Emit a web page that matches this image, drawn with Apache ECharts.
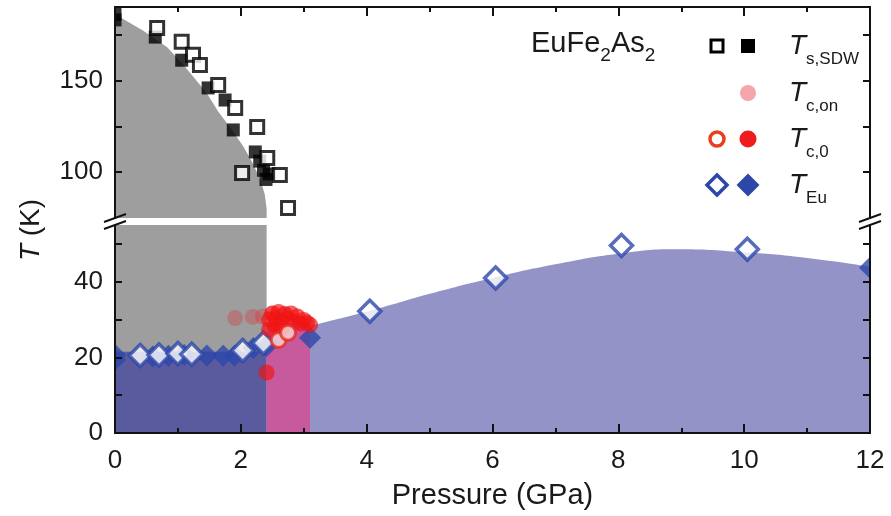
<!DOCTYPE html>
<html><head><meta charset="utf-8">
<script src="https://cdn.jsdelivr.net/npm/echarts@6/dist/echarts.min.js"></script>
<style>html,body{margin:0;padding:0;background:#fff}#c{width:891px;height:516px}</style>
</head><body><div id="c"></div>
<script>
// ---------- data ----------
const xLabels = [0, 2, 4, 6, 8, 10, 12];
const yLabelsUpper = [100, 150];
const yLabelsLower = [0, 20, 40];
const yTicksUpper = [100, 125, 150, 175];
const yTicksLower = [10, 20, 30, 40, 50];

// T_s,SDW (upper panel)
const tsOpen = [[0.67,178.5],[1.06,171],[1.24,164],[1.35,158.4],[1.64,147.5],[1.91,135],[2.26,124.6],[2.42,107.7],[2.02,99.5],[2.62,98.4],[2.75,80.5]];
const tsFilled = [[0,186],[0,183],[0.64,173.6],[1.06,161],[1.48,145.9],[1.75,139.3],[1.88,123],[2.23,111],[2.3,106],[2.36,101],[2.45,99],[2.4,96]];
// T_c,on
const tcOn = [[1.91,30.4],[2.19,30.7],[2.35,30.8],[2.5,31.5],[2.7,31.5]];
// T_c,0
const tc0Open = [[2.6,24.6],[2.75,26.5]];
const tc0Filled = [[2.45,30],[2.5,31.6],[2.55,30.4],[2.6,32],[2.65,29.6],[2.7,31.4],[2.75,30.2],[2.8,31.6],[2.85,29.4],[2.9,30.8],[2.95,28.9],[3.0,29.9],[3.05,29.2],[3.1,28.6],[2.55,28.4],[2.65,27.8],[2.45,27.4],[2.41,16]];
// T_Eu
const euOpen = [[0.4,20.5],[0.7,20.6],[1.0,21],[1.22,20.8],[2.03,21.8],[2.36,23.8],[4.05,32.2],[6.05,41],[8.05,49.6],[10.05,48.6]];
const euFilled = [[0,20.6],[0,19.4],[0.6,20.2],[0.85,20.4],[1.1,20.6],[1.46,20.5],[1.72,20.4],[1.9,20.4],[2.2,22.5],[2.41,23],[3.1,25.2],[12,43.7]];

// phase regions
const sdwUpper = [[0,186],[0.45,177],[0.83,168],[1.1,158],[1.46,143],[1.64,133],[1.86,123],[2.04,114],[2.17,106],[2.3,97],[2.38,88],[2.41,80],[2.41,75]];
const sdwLower = [[0,55],[2.41,55],[2.41,0]];
const euDark = [[0,21.5],[2.41,21.5],[2.41,0]];
const scPink = [[2.41,29],[3.1,29],[3.1,0]];
const euPhase = [[3.1,28.3],[4.2,33],[5,36.8],[6,41],[7,44.6],[8,47.4],[8.9,48.6],[10,47.8],[11,46.3],[12,44]];

// ---------- layout ----------
const L = 115, R = 21, UT = 7, UH = 211, LT = 225, LH = 208;
const FONT = '"Liberation Sans", Arial, sans-serif';
const chart = echarts.init(document.getElementById('c'), null, {renderer: 'canvas'});

const axisLine = {show: true, onZero: false, lineStyle: {color: '#111', width: 2}};
const tick = (len) => ({show: true, inside: true, length: len, lineStyle: {color: '#111', width: 2}});

function area(data, grid, color, smooth) {
  return {type: 'line', xAxisIndex: grid, yAxisIndex: grid * 2, data, symbol: 'none', smooth: !!smooth,
    lineStyle: {width: 0}, areaStyle: {color, opacity: 1, origin: 'start'}, z: 1, silent: true, animation: false};
}
function scat(data, grid, sym, size, style, z) {
  return {type: 'scatter', xAxisIndex: grid, yAxisIndex: grid * 2, data, symbol: sym, symbolSize: size,
    itemStyle: style, z: z || 5, clip: true, animation: false};
}

const xAxisBase = {type: 'value', min: 0, max: 12, interval: 2, splitLine: {show: false},
  minorTick: {show: true, splitNumber: 2, length: 5, lineStyle: {color: '#111', width: 2}}, z: 30};

const option = {
  backgroundColor: '#fff',
  animation: false,
  grid: [
    {left: L, right: R, top: UT, height: UH},
    {left: L, right: R, top: LT, height: LH}
  ],
  xAxis: [
    Object.assign({}, xAxisBase, {gridIndex: 0, position: 'top', axisLine, axisTick: tick(9), axisLabel: {show: false}}),
    Object.assign({}, xAxisBase, {gridIndex: 1, position: 'bottom', axisLine, axisTick: tick(9),
      axisLabel: {show: true, customValues: xLabels, fontSize: 26, fontFamily: FONT, color: '#1a1a1a', margin: 15},
      name: 'Pressure (GPa)', nameLocation: 'middle', nameGap: 48,
      nameTextStyle: {fontSize: 29, fontFamily: FONT, color: '#1a1a1a'}})
  ],
  yAxis: [
    {type: 'value', gridIndex: 0, position: 'left', min: 75, max: 190, splitLine: {show: false}, axisLine,
      axisTick: Object.assign(tick(7), {customValues: yTicksUpper}),
      axisLabel: {customValues: yLabelsUpper, fontSize: 26, fontFamily: FONT, color: '#1a1a1a', margin: 12}, z: 30},
    {type: 'value', gridIndex: 0, position: 'right', min: 75, max: 190, splitLine: {show: false}, axisLine,
      axisTick: Object.assign(tick(7), {customValues: yTicksUpper}), axisLabel: {show: false}, z: 30},
    {type: 'value', gridIndex: 1, position: 'left', min: 0, max: 55, splitLine: {show: false}, axisLine,
      axisTick: Object.assign(tick(7), {customValues: yTicksLower}),
      axisLabel: {customValues: yLabelsLower, fontSize: 26, fontFamily: FONT, color: '#1a1a1a', margin: 12}, z: 30},
    {type: 'value', gridIndex: 1, position: 'right', min: 0, max: 55, splitLine: {show: false}, axisLine,
      axisTick: Object.assign(tick(7), {customValues: yTicksLower}), axisLabel: {show: false}, z: 30}
  ],
  series: [
    area(sdwUpper, 0, '#9e9e9e'),
    area(sdwLower, 1, '#9e9e9e'),
    area(euDark, 1, '#5a5a9e'),
    area(scPink, 1, '#c65a9c'),
    area(euPhase, 1, '#9393c8', true),
    scat(tsFilled, 0, 'rect', 13, {color: '#000'}, 5),
    scat(tsOpen, 0, 'rect', 13, {color: '#fff', borderColor: '#000', borderWidth: 3}, 6),
    scat(euFilled, 1, 'diamond', 22, {color: '#2d47a9'}, 5),
    scat(euOpen, 1, 'diamond', 22, {color: '#fff', borderColor: '#2d47a9', borderWidth: 3.5}, 6),
    scat(tcOn, 1, 'circle', 16, {color: 'rgba(225,40,50,0.38)'}, 7),
    scat(tc0Filled, 1, 'circle', 16, {color: 'rgba(240,20,20,0.85)'}, 8),
    scat(tc0Open, 1, 'circle', 15, {color: '#f8d8d8', borderColor: '#e82a1e', borderWidth: 3}, 9)
  ]
};

// legend / annotations (decoration)
const right = 891 - R;
const brkY = (UT + UH + LT) / 2;
const rows = [46, 93, 139, 185];
const c1 = 717, c2 = 748, tx = 789;
function dia(cx, cy, s, fill, stroke) {
  return {type: 'polygon', shape: {points: [[cx, cy - s], [cx + s, cy], [cx, cy + s], [cx - s, cy]]},
    style: {fill, stroke: stroke || null, lineWidth: 3.5}, z: 40};
}
function lbl(y, sub) {
  return {type: 'text', x: tx, y: y - 14, z: 40, style: {text: '{t|T}{s|' + sub + '}', rich: {
    t: {fontSize: 28, fontStyle: 'italic', fontFamily: FONT, fill: '#1a1a1a', lineHeight: 36, verticalAlign: 'top'},
    s: {fontSize: 17, fontFamily: FONT, fill: '#1a1a1a', lineHeight: 20, verticalAlign: 'bottom'}}}};
}
const mask = (x, y, w, h) => ({type: 'rect', shape: {x, y, width: w, height: h}, style: {fill: '#fff'}, z: 25, silent: true});
option.graphic = [
  // clip symbols at the frame
  mask(103.5, 0, 11, 440), mask(871, 0, 20, 440), mask(100, 0, 791, 6),
  // break marks
  ...[L, right].map(x => [-3.5, 3.5].map(d => ({type: 'line', z: 40,
    shape: {x1: x - 11, y1: brkY + d + 4, x2: x + 11, y2: brkY + d - 4}, style: {stroke: '#111', lineWidth: 2}}))).flat(),
  // axis title
  {type: 'text', x: 31, y: 230, rotation: Math.PI / 2, z: 40, style: {text: '{i|T}{n| (K)}', align: 'center', verticalAlign: 'middle',
    rich: {i: {fontSize: 28, fontStyle: 'italic', fontFamily: FONT, fill: '#1a1a1a'}, n: {fontSize: 28, fontFamily: FONT, fill: '#1a1a1a'}}}},
  // compound label
  {type: 'text', x: 531, y: rows[0] - 17, z: 40, style: {text: '{a|EuFe}{s|2}{a|As}{s|2}', rich: {
    a: {fontSize: 29, fontFamily: FONT, fill: '#1a1a1a', lineHeight: 36, verticalAlign: 'top'},
    s: {fontSize: 19, fontFamily: FONT, fill: '#1a1a1a', lineHeight: 20, verticalAlign: 'bottom'}}}},
  // legend symbols
  {type: 'rect', shape: {x: c1 - 6, y: rows[0] - 6, width: 12, height: 12}, style: {fill: '#fff', stroke: '#000', lineWidth: 3}, z: 40},
  {type: 'rect', shape: {x: c2 - 7, y: rows[0] - 7, width: 14, height: 14}, style: {fill: '#000'}, z: 40},
  {type: 'circle', shape: {cx: c2, cy: rows[1], r: 8}, style: {fill: '#f4a6ac'}, z: 40},
  {type: 'circle', shape: {cx: c1, cy: rows[2], r: 7}, style: {fill: '#fff', stroke: '#e8401e', lineWidth: 3.5}, z: 40},
  {type: 'circle', shape: {cx: c2, cy: rows[2], r: 8.5}, style: {fill: '#ee1c1c'}, z: 40},
  dia(c1, rows[3], 10, '#fff', '#2d47a9'),
  dia(c2, rows[3], 11.5, '#2d47a9'),
  lbl(rows[0], 's,SDW'), lbl(rows[1], 'c,on'), lbl(rows[2], 'c,0'), lbl(rows[3], 'Eu')
];

chart.setOption(option);
</script></body></html>
